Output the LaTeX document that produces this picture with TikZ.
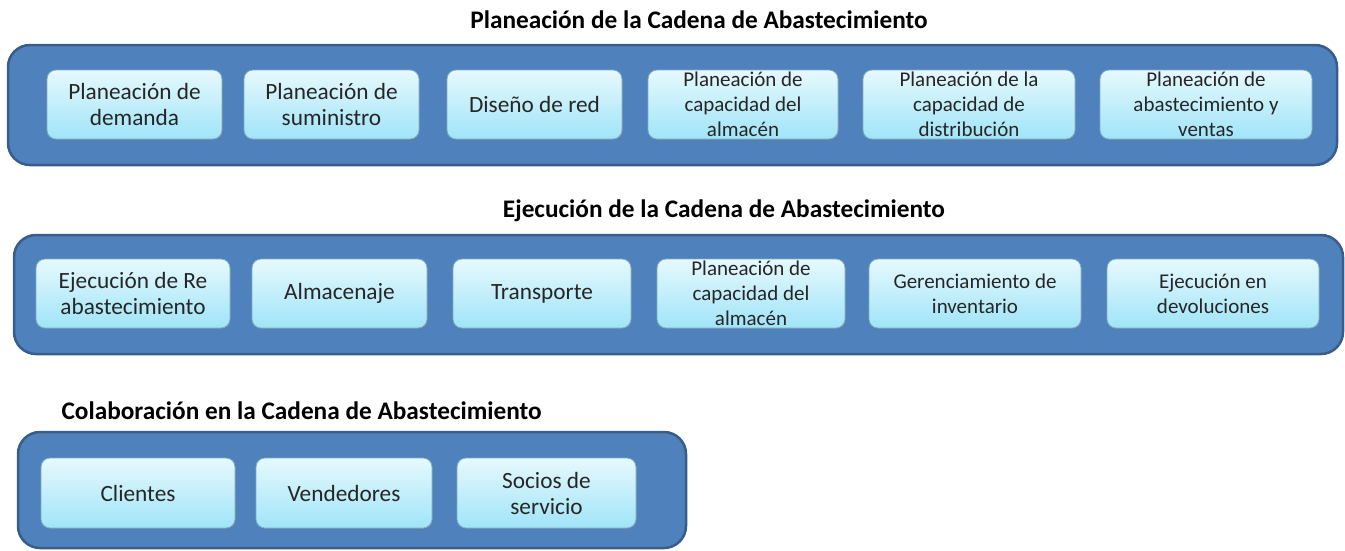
\documentclass[tikz,border=0pt]{standalone}
\usepackage{fontspec}
\setmainfont{Carlito}
\usepackage{xcolor}
\usepackage{tikz}
\usetikzlibrary{positioning, shadows}
\definecolor{panelblue}{RGB}{79, 129, 189}
\definecolor{paneledge}{RGB}{56, 93, 138}
\definecolor{tiletop}{RGB}{230, 249, 253}
\definecolor{tilebottom}{RGB}{160, 228, 248}
\definecolor{tileedge}{RGB}{125, 172, 192}
\definecolor{tiletext}{RGB}{38, 38, 38}
\newcommand{\headtxt}{\fontsize{25.3}{30}\selectfont\bfseries}
\newcommand{\bigtxt}{\fontsize{23.3}{26}\selectfont}
\newcommand{\smalltxt}{\fontsize{21}{25}\selectfont}
\tikzset{
  panel/.style={draw=paneledge, line width=2.5pt, fill=panelblue, rounded corners=22pt},
  tile/.style={draw=tileedge, line width=0.8pt, rounded corners=9pt,
    top color=tiletop, bottom color=tilebottom, text=tiletext, align=center,
    inner sep=0pt, minimum height=69, font=\bigtxt,
    drop shadow={shadow xshift=0.8pt, shadow yshift=-1.2pt, opacity=0.35}},
  small/.style={font=\smalltxt},
  heading/.style={font=\headtxt, text=black}
}

\begin{document}
\begin{tikzpicture}[x=1pt, y=-1pt]
  \useasboundingbox (0,0) rectangle (1345,550);
  % Planeacion
  \node[heading] (titlePlan) at (699,20) {Planeación de la Cadena de Abastecimiento};
  \draw[panel] (8,45) rectangle (1337,165);
  \node[tile, minimum width=175] (demanda) at (134.5,104.5) {Planeación de\\demanda};
  \node[tile, minimum width=175] (suministro) at (331.5,104.5) {Planeación de\\suministro};
  \node[tile, minimum width=175] (red) at (534.5,104.5) {Diseño de red};
  \node[tile, small, minimum width=190] (almacenPlan) at (743,104.5) {Planeación de\\capacidad del\\almacén};
  \node[tile, small, minimum width=212] (distribucion) at (969,104.5) {Planeación de la\\capacidad de\\distribución};
  \node[tile, small, minimum width=212] (ventas) at (1206,104.5) {Planeación de\\abastecimiento y\\ventas};
  % Ejecucion
  \node[heading] (titleExec) at (724,211) {Ejecución de la Cadena de Abastecimiento};
  \draw[panel] (14,235) rectangle (1343,354);
  \node[tile, minimum width=194] (reabast) at (133,293.5) {Ejecución de Re\\abastecimiento};
  \node[tile, minimum width=175] (almacenaje) at (339.5,293.5) {Almacenaje};
  \node[tile, minimum width=178] (transporte) at (542,293.5) {Transporte};
  \node[tile, small, minimum width=188] (almacenExec) at (751,293.5) {Planeación de\\capacidad del\\almacén};
  \node[tile, small, minimum width=212] (inventario) at (975,293.5) {Gerenciamiento de\\inventario};
  \node[tile, small, minimum width=212] (devoluciones) at (1213,293.5) {Ejecución en\\devoluciones};
  % Colaboracion
  \node[heading, anchor=west] (titleColab) at (58,411) {Colaboración en la Cadena de Abastecimiento};
  \draw[panel] (18,432) rectangle (686,548);
  \node[tile, minimum width=194, minimum height=70] (clientes) at (138,493) {Clientes};
  \node[tile, minimum width=176, minimum height=70] (vendedores) at (344,493) {Vendedores};
  \node[tile, minimum width=179, minimum height=70] (socios) at (546.5,493) {Socios de\\servicio};
\end{tikzpicture}
\end{document}
